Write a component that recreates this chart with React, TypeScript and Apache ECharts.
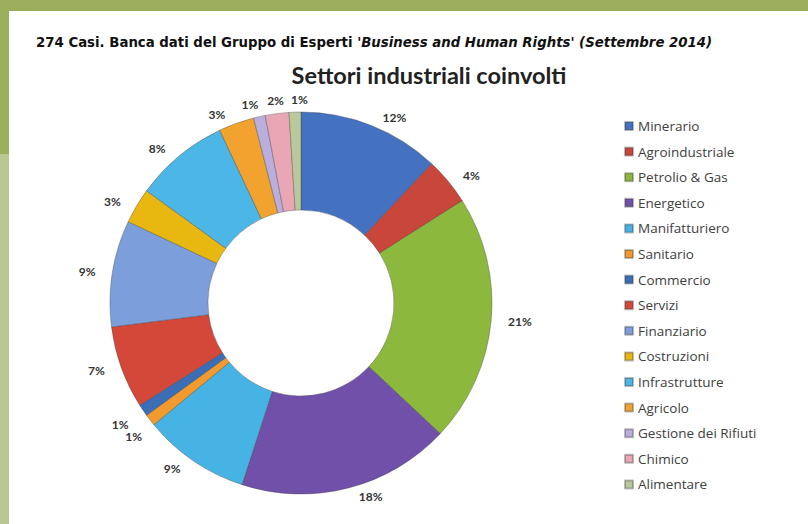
import React, { useEffect, useRef } from "react";
import * as echarts from "echarts";

const categories = [
  "Minerario",
  "Agroindustriale",
  "Petrolio & Gas",
  "Energetico",
  "Manifatturiero",
  "Sanitario",
  "Commercio",
  "Servizi",
  "Finanziario",
  "Costruzioni",
  "Infrastrutture",
  "Agricolo",
  "Gestione dei Rifiuti",
  "Chimico",
  "Alimentare",
];
const percentValues = [12, 4, 21, 18, 9, 1, 1, 7, 9, 3, 8, 3, 1, 2, 1];
const sliceColors = [
  "#4472C0",
  "#C8463A",
  "#8DB83E",
  "#7150AA",
  "#47B3E4",
  "#F29A2E",
  "#3A6FB8",
  "#D4483A",
  "#7C9FDC",
  "#E8B810",
  "#4CB6E6",
  "#F2A22E",
  "#B9AEDC",
  "#E9A6B4",
  "#B9C99A",
];
const subtitleParts = [
  "274 Casi. Banca dati del Gruppo di Esperti ",
  "'Business and Human Rights'",
  " (Settembre 2014)",
];
const chartTitle = "Settori industriali coinvolti";

export default function App() {
  const ref = useRef<HTMLDivElement>(null);
  useEffect(() => {
    if (!ref.current) return;
    const chart = echarts.init(ref.current, null, { renderer: "svg" });
    const data = categories.map((name, i) => ({
      name,
      value: percentValues[i],
      itemStyle: { color: sliceColors[i] },
    }));
    const font = "Lato, 'Open Sans', 'DejaVu Sans', sans-serif";
    const wide = "'DejaVu Sans', 'Open Sans', sans-serif";
    // small label nudges so that the thin slices' labels sit as in the source
    const labelNudge: Record<number, { dx: number; dy: number }> = {
      5: { dx: 7, dy: 11 },
      6: { dx: 1, dy: 9 },
      12: { dx: 9, dy: -3 },
      13: { dx: 16, dy: -4 },
      14: { dx: 21, dy: -4 },
    };
    chart.setOption({
      animation: false,
      backgroundColor: "#ffffff",
      graphic: [
        { type: "rect", shape: { x: 0, y: 0, width: 808, height: 524 }, style: { fill: "#9AAE5B" }, silent: true, z: -10 },
        { type: "rect", shape: { x: 0, y: 154, width: 9, height: 370 }, style: { fill: "#BAC78F" }, silent: true, z: -10 },
        { type: "rect", shape: { x: 9, y: 11, width: 799, height: 513 }, style: { fill: "#FFFFFF" }, silent: true, z: -9 },
        {
          type: "text",
          x: 36,
          y: 42,
          style: {
            text: `{n|${subtitleParts[0]}}{i|${subtitleParts[1]}}{i|${subtitleParts[2]}}`,
            verticalAlign: "middle",
            fill: "#111",
            rich: {
              n: { fontFamily: wide, fontWeight: "bold", fontSize: 13.3, fill: "#111" },
              i: { fontFamily: wide, fontWeight: "bold", fontStyle: "italic", fontSize: 13.3, fill: "#111" },
            },
          },
          z: 10,
        },
        {
          type: "text",
          x: 429,
          y: 75,
          style: {
            text: chartTitle,
            align: "center",
            verticalAlign: "middle",
            fontFamily: font,
            fontWeight: "bold",
            fontSize: 23.5,
            fill: "#222",
          },
          z: 10,
        },
      ],
      legend: {
        orient: "vertical",
        left: 619,
        top: 114,
        icon: "rect",
        itemWidth: 8,
        itemHeight: 8,
        itemGap: 11.6,
        data: categories,
        textStyle: { fontFamily: "'Open Sans', sans-serif", fontSize: 13.5, color: "#404040", lineHeight: 14 },
      },
      series: [
        {
          type: "pie",
          center: [301, 303],
          radius: [93, 191],
          startAngle: 90,
          clockwise: true,
          avoidLabelOverlap: false,
          data,
          itemStyle: { borderColor: "rgba(60,60,60,0.35)", borderWidth: 1 },
          label: {
            show: true,
            position: "outside",
            formatter: (p: any) => `${p.value}%`,
            fontFamily: font,
            fontWeight: "bold",
            fontSize: 12,
            color: "#333",
          },
          labelLayout: (p: any) => {
            const n = labelNudge[p.dataIndex];
            return n ? { hideOverlap: false, dx: n.dx, dy: n.dy } : { hideOverlap: false };
          },
          labelLine: { show: false, length: 9, length2: 3 },
          emphasis: { disabled: true },
        },
      ],
    });
    return () => chart.dispose();
  }, []);
  return (
    <div
      ref={ref}
      style={{ position: "fixed", left: 0, top: 0, width: 808, height: 524 }}
    />
  );
}
